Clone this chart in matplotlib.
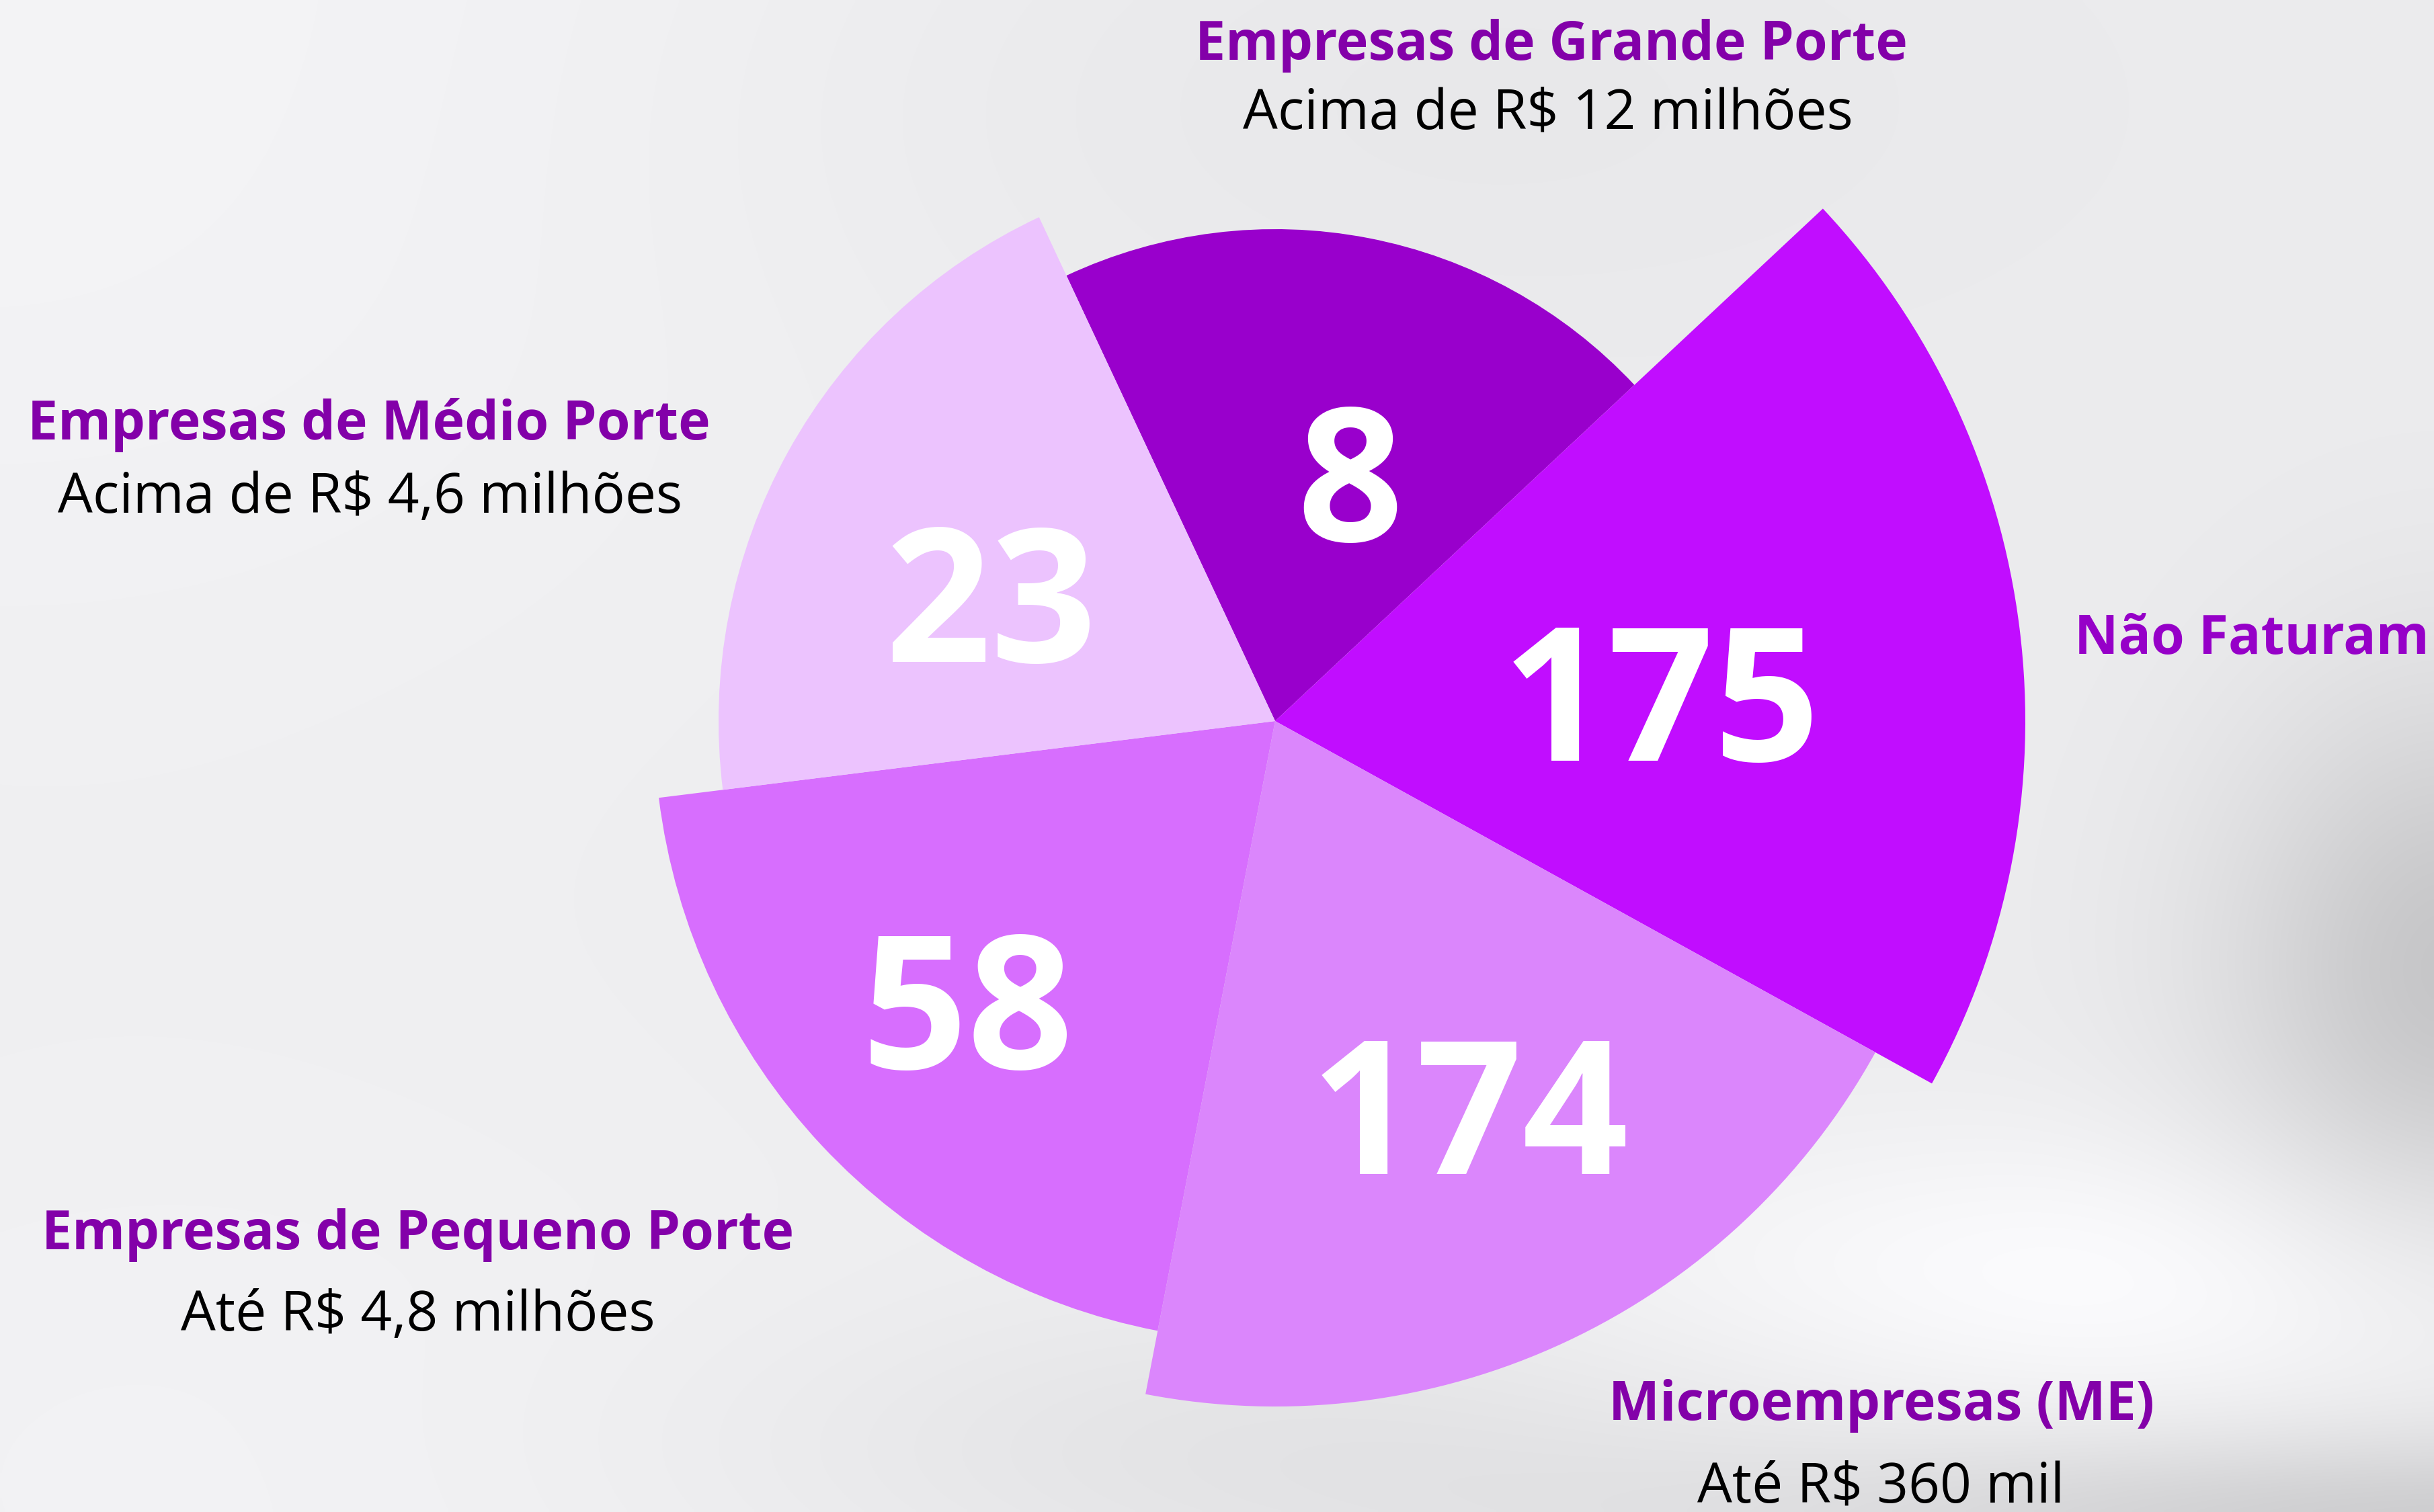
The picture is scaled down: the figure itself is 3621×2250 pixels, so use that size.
import numpy as np
import matplotlib
matplotlib.use("Agg")
import matplotlib.pyplot as plt

# ---------------- data ----------------
categories = ["Empresas de Grande Porte", "Não Faturam", "Microempresas (ME)",
              "Empresas de Pequeno Porte", "Empresas de Médio Porte"]
subtitles = ["Acima de R$ 12 milhões", "", "Até R$ 360 mil",
             "Até R$ 4,8 milhões", "Acima de R$ 4,6 milhões"]
values = [8, 175, 174, 58, 23]
colors = ["#9900CC", "#C10DFF", "#DB86FC", "#D76EFE", "#ECC3FE"]

# ---------------- layout ----------------
W, H = 3621, 2250
DPI = 100
cx, cy = 1897, 1073          # pie centre in pixels (from top)
R_AX = 1200                  # polar axes radius in pixels
base_r, step_r = 732, 96     # radius of a slice grows with its rank
start_angle = 115.1          # degrees, first slice edge; slices run clockwise

ranks = np.argsort(np.argsort(values))
radii = [base_r + step_r * rk for rk in ranks]

fig = plt.figure(figsize=(W / DPI, H / DPI), dpi=DPI)

# background
ax_bg = fig.add_axes([0, 0, 1, 1])
yy, xx = np.mgrid[0:H:5, 0:W:5].astype(float)
def blob(x0, y0, sx, sy):
    return np.exp(-(((xx - x0) / sx) ** 2 + ((yy - y0) / sy) ** 2) / 2)
v = np.full_like(xx, 237.0)
v += 8 * blob(0, 0, 1200, 900)
v += 6 * blob(300, 2250, 900, 500)
v -= 5 * blob(2000, 150, 700, 300)
v -= 38 * blob(3650, 1450, 240, 300)
v += 16 * blob(3200, 1900, 600, 160)
v -= 30 * blob(3650, 2260, 700, 90)
v -= 10 * blob(1950, 2150, 600, 150)
v = np.clip(v, 0, 255)
img = np.dstack([v - 1, v - 1, v + 1]) / 255.0
ax_bg.imshow(np.clip(img, 0, 1), extent=[0, W, H, 0], aspect="auto",
             interpolation="bilinear")
ax_bg.set_xlim(0, W)
ax_bg.set_ylim(H, 0)
ax_bg.axis("off")

# polar pie with variable radii
ax = fig.add_axes([(cx - R_AX) / W, (H - cy - R_AX) / H, 2 * R_AX / W, 2 * R_AX / H],
                  projection="polar")
ax.set_theta_direction(-1)
ax.set_theta_offset(np.radians(start_angle))
n = len(values)
width = 2 * np.pi / n
theta = np.arange(n) * width
ax.bar(theta, radii, width=width, align="edge", color=colors,
       edgecolor="none", linewidth=0)
ax.set_ylim(0, R_AX)
ax.set_axis_off()
ax.patch.set_alpha(0)

# text overlay
ax_t = fig.add_axes([0, 0, 1, 1])
ax_t.set_xlim(0, W)
ax_t.set_ylim(H, 0)
ax_t.axis("off")
ax_t.patch.set_alpha(0)

num_pos = [(2008, 805), (2471, 1132), (2186, 1747), (1439, 1590), (1474, 985)]
for val, (x, y) in zip(values, num_pos):
    ax_t.text(x, y, str(val), ha="center", va="baseline", color="white",
              fontsize=199, fontweight="bold", family="Open Sans")

title_pos = [(2308, 89), (3350, 973), (2799, 2113), (622, 1859), (549, 654)]
sub_pos = [(2303, 191), None, (2798, 2236), (622, 1980), (550, 763)]
title_colors = ["#8300A9", "#9600C8", "#8300A9", "#8300A9", "#8300A9"]
for cat, sub, tp, sp, tc in zip(categories, subtitles, title_pos, sub_pos, title_colors):
    ax_t.text(tp[0], tp[1], cat, ha="center", va="baseline", color=tc,
              fontsize=58, fontweight="bold", family="Open Sans")
    if sub and sp:
        ax_t.text(sp[0], sp[1], sub, ha="center", va="baseline", color="black",
                  fontsize=59, family="Open Sans")

fig.savefig("out.png", dpi=DPI)
